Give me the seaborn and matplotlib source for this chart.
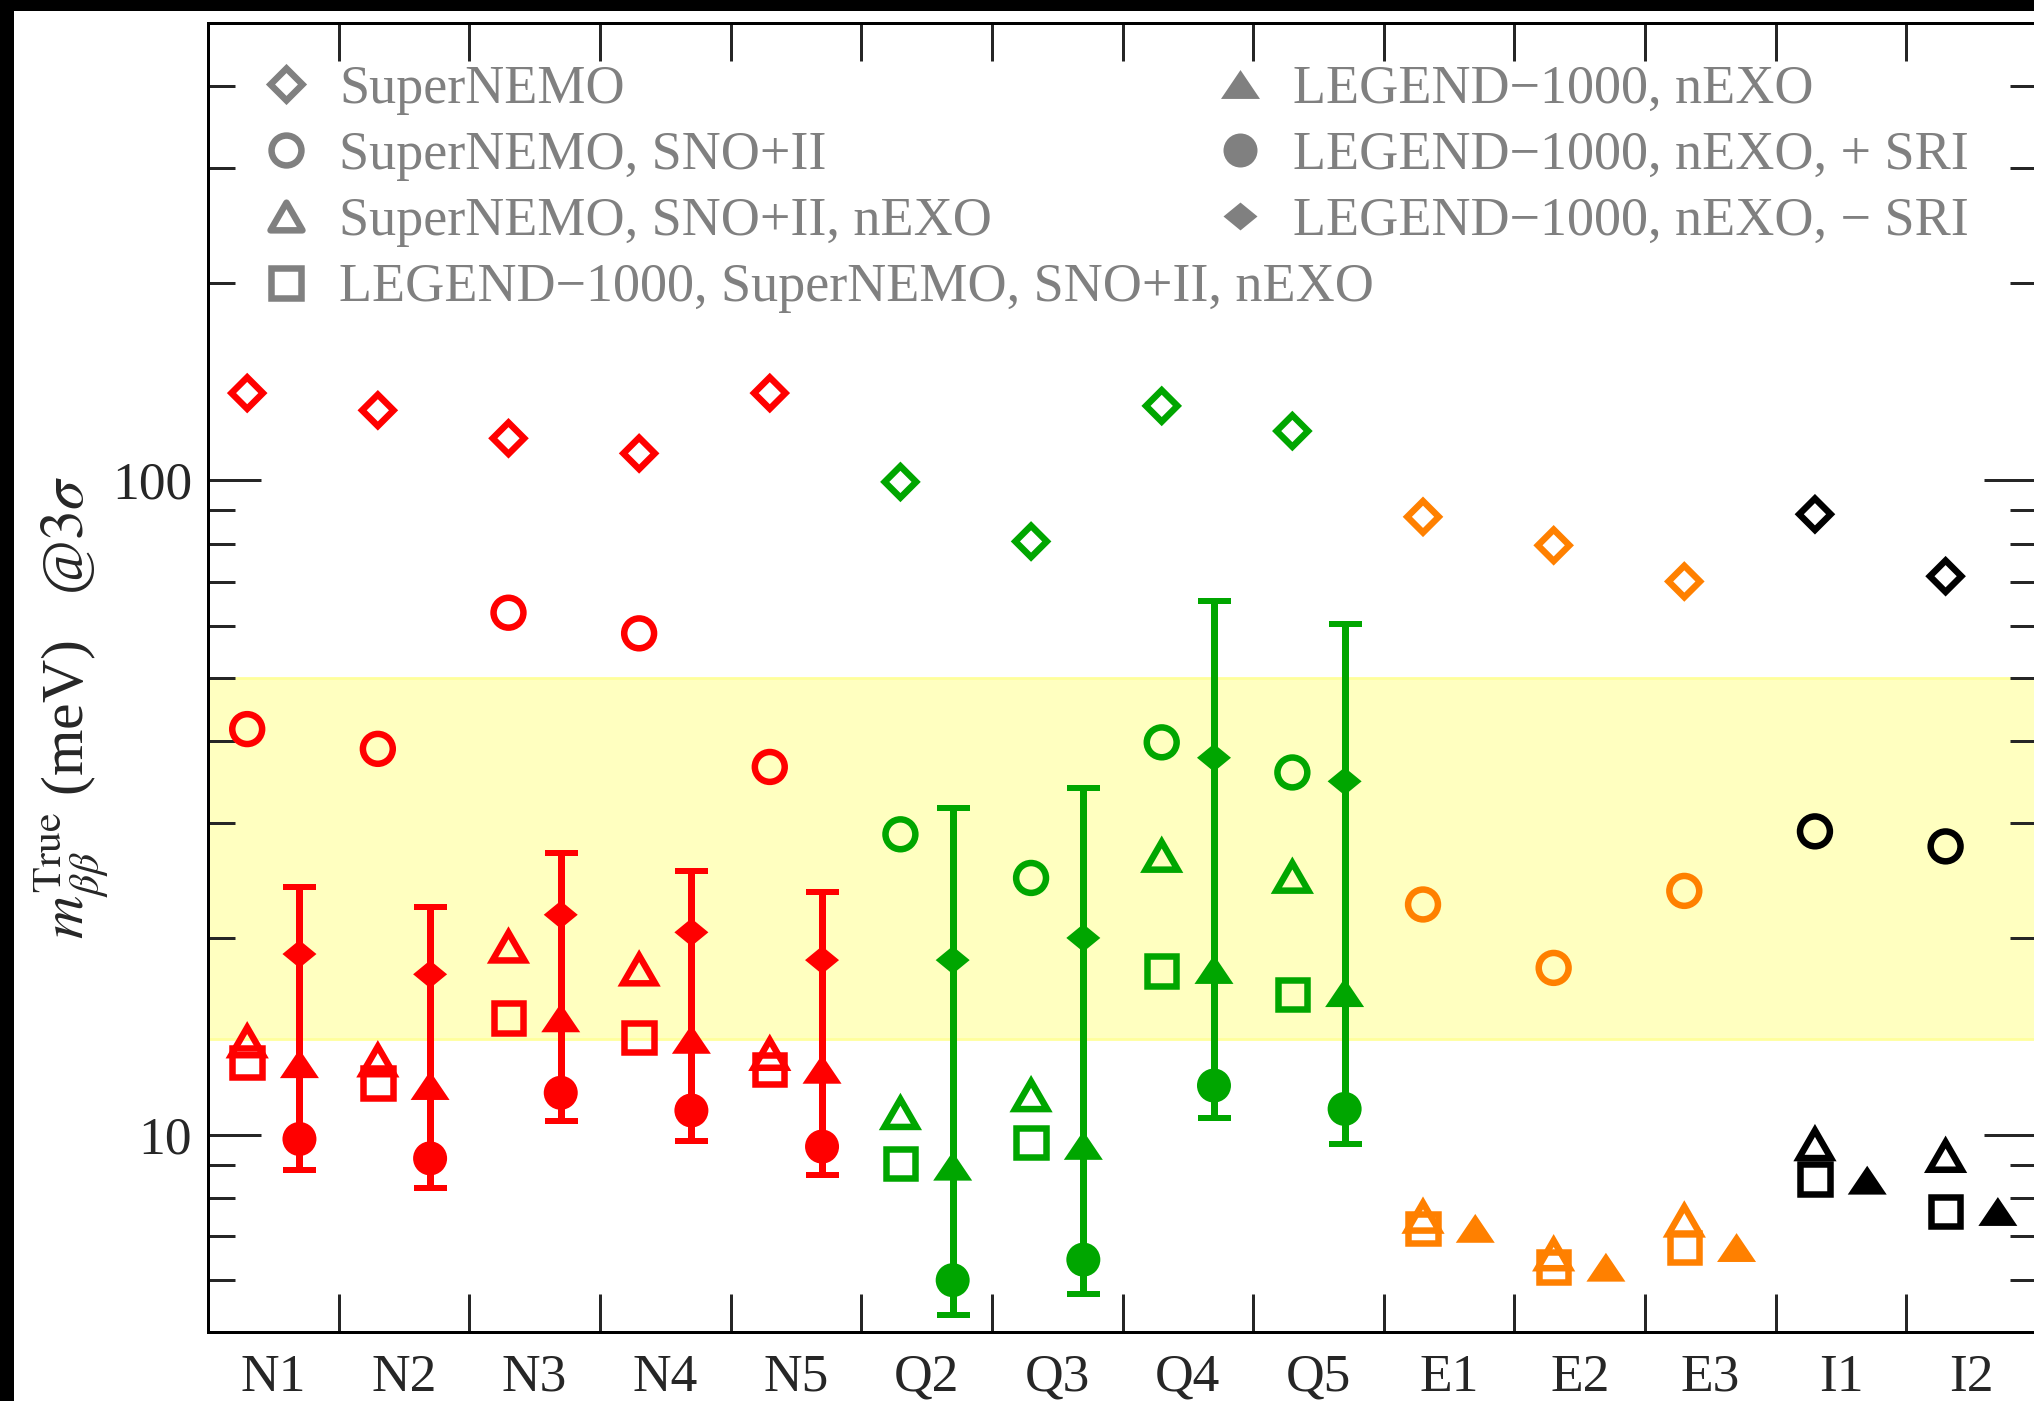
import numpy as np
import pandas as pd
import matplotlib
matplotlib.use("Agg")
import matplotlib.pyplot as plt
import seaborn as sns
from matplotlib.path import Path
from matplotlib.markers import MarkerStyle
from matplotlib.lines import Line2D
from matplotlib.patches import Rectangle
from matplotlib.ticker import FixedLocator, FuncFormatter, NullFormatter

# ---------------- data ----------------
categories = ['N1', 'N2', 'N3', 'N4', 'N5', 'Q2', 'Q3', 'Q4', 'Q5',
              'E1', 'E2', 'E3', 'I1', 'I2']
groups = ['N'] * 5 + ['Q'] * 4 + ['E'] * 3 + ['I'] * 2
group_colors = {'N': '#ff0000', 'Q': '#00a600', 'E': '#ff8000', 'I': '#000000'}

# open markers (left of each category)
supernemo = [136, 128, 116, 110, 136, 99.5, 80.7, 130, 119, 88.0, 79.6, 70.1, 88.8, 71.4]
supernemo_sno = [41.7, 38.9, 62.8, 58.4, 36.5, 28.8, 24.7, 39.8, 35.8, 22.5, 18.0, 23.6, 29.1, 27.6]
supernemo_sno_nexo = [13.9, 13.0, 19.4, 17.9, 13.3, 10.8, 11.5, 26.7, 24.8, 7.5, 6.57, 7.4, 9.68, 9.29]
all_four = [12.9, 12.0, 15.1, 14.1, 12.6, 9.05, 9.73, 17.8, 16.4, 7.2, 6.28, 6.73, 8.56, 7.64]
# filled markers (right of each category)
legend_nexo = [12.85, 11.9, 15.1, 14.0, 12.6, 8.96, 9.64, 17.9, 16.5, 7.2, 6.28, 6.73, 8.53, 7.64]
plus_sri = [9.86, 9.21, 11.6, 10.9, 9.6, 6.0, 6.45, 11.9, 10.96]
minus_sri = [18.9, 17.6, 21.7, 20.4, 18.5, 18.5, 20.0, 37.7, 34.7]
err_hi = [23.9, 22.3, 27.0, 25.3, 23.5, 31.6, 33.9, 65.4, 60.3]
err_lo = [8.84, 8.29, 10.5, 9.8, 8.68, 5.31, 5.71, 10.6, 9.68]

band_lo, band_hi = 14.0, 50.0

legend_left = ['SuperNEMO', 'SuperNEMO, SNO+II', 'SuperNEMO, SNO+II, nEXO',
               'LEGEND\u22121000, SuperNEMO, SNO+II, nEXO']
legend_right = ['LEGEND\u22121000, nEXO', 'LEGEND\u22121000, nEXO, + SRI',
                'LEGEND\u22121000, nEXO, \u2212 SRI']

# ---------------- style ----------------
sns.set_style('ticks')
plt.rcParams['font.family'] = ['Liberation Serif', 'DejaVu Serif']
plt.rcParams['mathtext.fontset'] = 'stix'

PX = 0.72  # points per pixel at dpi 100
GRAY = '#808080'
FS_LEG = 39
FS_TICK = 38.5

def mk(verts):
    v = list(verts) + [verts[0]]
    codes = [Path.MOVETO] + [Path.LINETO] * (len(verts) - 1) + [Path.CLOSEPOLY]
    return MarkerStyle(Path(v, codes), joinstyle='miter')

tri_open = mk([(-1, -0.866), (1, -0.866), (0, 0.866)])
tri_fill = mk([(-1, -0.74), (1, -0.74), (0, 0.74)])
dia_fill = mk([(0, 0.82), (1, 0), (0, -0.82), (-1, 0)])
dia_open = MarkerStyle('D')
sq_open = MarkerStyle('s')
circ = MarkerStyle('o')

open_specs = [
    (supernemo, dia_open, 16.0),
    (supernemo_sno, circ, 21.5),
    (supernemo_sno_nexo, tri_open, 23.0),
    (all_four, sq_open, 21.2),
]
OPEN_LW = 6.5 * PX

fig = plt.figure(figsize=(20.34, 14.01), dpi=100)
ax = fig.add_axes([0.10226, 0.04925, 0.89924, 0.93433])

ax.axhspan(band_lo, band_hi, facecolor='#ffffc0', edgecolor='#ffff9c', lw=2, zorder=0)

x_idx = np.arange(len(categories))
OFF = 0.2


def scatter(vals, xoff, marker, ms, open_, zorder):
    n = len(vals)
    df = pd.DataFrame({'x': x_idx[:n] + xoff, 'y': vals, 'g': groups[:n]})
    before = len(ax.collections)
    sns.scatterplot(data=df, x='x', y='y', hue='g', palette=group_colors,
                    marker=marker, s=ms ** 2, linewidth=0,
                    legend=False, ax=ax, zorder=zorder)
    coll = ax.collections[before]
    if open_:
        fc = coll.get_facecolors()
        coll.set_edgecolors(fc)
        coll.set_facecolor('none')
        coll.set_linewidths(OPEN_LW)
    coll.set_joinstyle('miter')
    return coll


for vals, m, ms in open_specs:
    scatter(vals, -OFF, m, ms, True, 3)

# error bars (range between the two SRI cases)
n_err = len(err_hi)
for i in range(n_err):
    c = group_colors[groups[i]]
    mid = legend_nexo[i]
    ax.errorbar([x_idx[i] + OFF], [mid], yerr=[[mid - err_lo[i]], [err_hi[i] - mid]],
                fmt='none', ecolor=c, elinewidth=7 * PX, capsize=16.5 * PX,
                capthick=6 * PX, zorder=2)

scatter(legend_nexo, OFF, tri_fill, 39 * PX, False, 4)
scatter(plus_sri, OFF, circ, 34 * PX, False, 4)
scatter(minus_sri, OFF, dia_fill, 34 * PX, False, 4)

# axes limits / scales
ax.set_yscale('log')
ax.set_ylim(5, 500)
ax.set_xlim(-0.5, 13.5)
ax.set_xlabel('')

ax.yaxis.set_major_locator(FixedLocator([10, 100]))
ax.yaxis.set_major_formatter(FuncFormatter(lambda v, p: '%d' % round(v)))
ax.yaxis.set_minor_locator(FixedLocator([6, 7, 8, 9, 20, 30, 40, 50, 60, 70, 80, 90,
                                         200, 300, 400]))
ax.yaxis.set_minor_formatter(NullFormatter())

ax.set_xticks(np.arange(0.5, 13.0, 1.0))
ax.set_xticklabels([])
ax.set_xticks(x_idx, minor=True)
ax.set_xticklabels(categories, minor=True)

TW = 3 * PX
ax.tick_params(axis='x', which='major', direction='in', length=38 * PX, width=TW,
               top=True, bottom=True)
ax.tick_params(axis='x', which='minor', length=0, pad=15.5, labelsize=FS_TICK,
               top=False, bottom=True)
ax.tick_params(axis='y', which='major', direction='in', length=53 * PX, width=TW,
               left=True, right=True, labelsize=FS_TICK, pad=11.5)
ax.tick_params(axis='y', which='minor', direction='in', length=27 * PX, width=TW,
               left=True, right=True)
for s in ax.spines.values():
    s.set_linewidth(TW)
    s.set_color('black')

ax.set_ylabel(r'$m_{\beta\beta}^{\rm True}$ (meV)   @$3\sigma$', fontsize=43)
ax.yaxis.set_label_coords(-0.053, 0.477)

# legends
def lh(marker, ms, open_):
    if open_:
        return Line2D([], [], ls='none', marker=marker, ms=ms, mfc='none',
                      mec=GRAY, mew=OPEN_LW)
    return Line2D([], [], ls='none', marker=marker, ms=ms, mfc=GRAY, mec=GRAY, mew=0)

h1 = [lh(m, ms, True) for _, m, ms in open_specs]
h2 = [lh(tri_fill, 39 * PX, False), lh(circ, 34 * PX, False), lh(dia_fill, 34 * PX, False)]
common = dict(loc='upper left', frameon=False, fontsize=FS_LEG, handlelength=0.75,
              handletextpad=0.6, labelspacing=0.29, borderpad=0, borderaxespad=0,
              labelcolor=GRAY)
leg1 = ax.legend(h1, legend_left, bbox_to_anchor=(0.0317, 0.9684), **common)
ax.add_artist(leg1)
leg2 = ax.legend(h2, legend_right, bbox_to_anchor=(0.5533, 0.9684), **common)

# black frame strips (left and top)
fig.add_artist(Rectangle((0, 0), 14 / 2034, 1, transform=fig.transFigure,
                         facecolor='black', edgecolor='none', zorder=20))
fig.add_artist(Rectangle((0, 1 - 11 / 1401), 1, 11 / 1401, transform=fig.transFigure,
                         facecolor='black', edgecolor='none', zorder=20))

fig.savefig('out.png', dpi=100)
